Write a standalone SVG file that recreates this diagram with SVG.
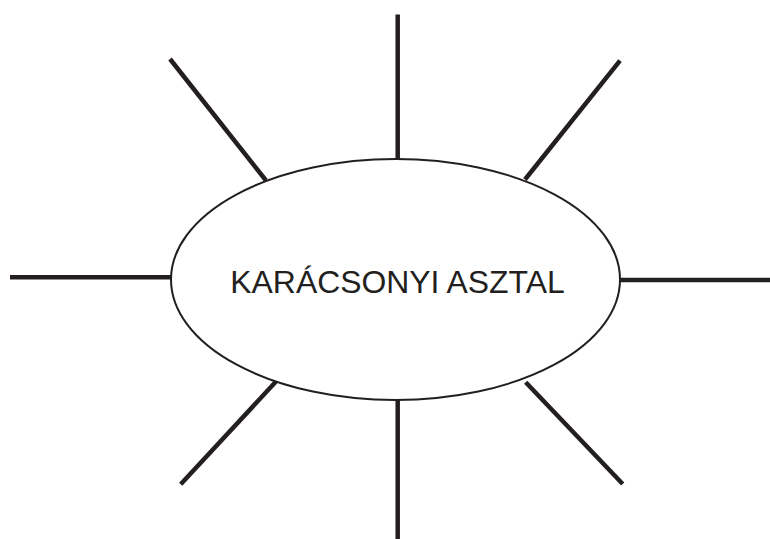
<svg xmlns="http://www.w3.org/2000/svg" width="770" height="539" viewBox="0 0 770 539">
<style>
.ray{stroke:#231f20;stroke-width:4.5;fill:none}
.oval{fill:#ffffff;stroke:#231f20;stroke-width:2}
.lbl{font-family:"Liberation Sans",Arial,sans-serif;font-size:31.9px;fill:#231f20;text-anchor:middle}
</style>
<rect width="770" height="539" fill="#ffffff"/>
<g id="connectors">
<line class="ray" x1="397.7" y1="14.5" x2="397.7" y2="160"/>
<line class="ray" x1="397.7" y1="400" x2="397.7" y2="539"/>
<line class="ray" x1="10" y1="277.3" x2="172" y2="277.3"/>
<line class="ray" x1="619" y1="280" x2="770" y2="280"/>
<line class="ray" x1="170" y1="59" x2="266" y2="180.5"/>
<line class="ray" x1="620" y1="60.7" x2="525" y2="179.5"/>
<line class="ray" x1="276" y1="381.5" x2="180.7" y2="484.3"/>
<line class="ray" x1="525.7" y1="382.3" x2="622.7" y2="484"/>
</g>
<g id="center">
<ellipse class="oval" cx="395.5" cy="279.5" rx="224.5" ry="120.5"/>
<text class="lbl" x="397.5" y="293.3">KARÁCSONYI ASZTAL</text>
</g>
</svg>
